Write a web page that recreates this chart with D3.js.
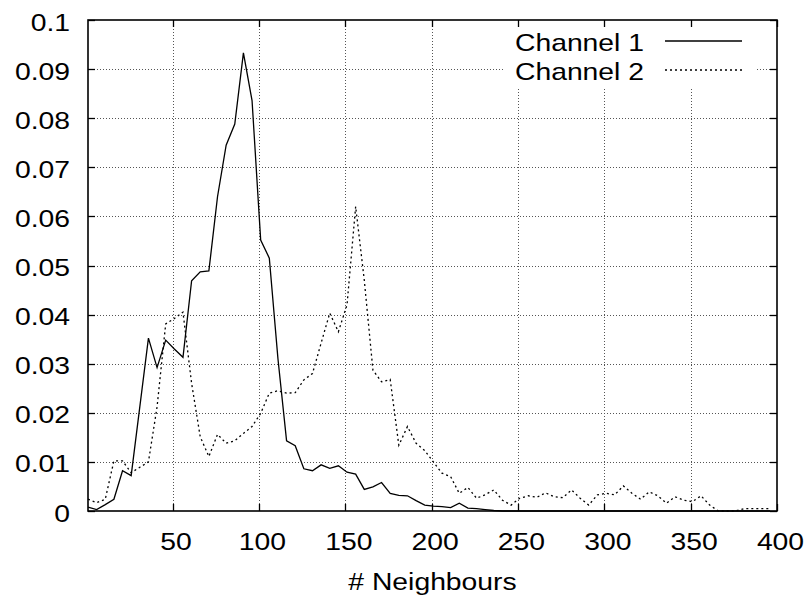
<!DOCTYPE html>
<html>
<head>
<meta charset="utf-8">
<script src="https://cdn.jsdelivr.net/npm/d3@7"></script>
<style>
  body { margin: 0; background: #fff; }
  text { font-family: "Liberation Sans", Arial, sans-serif; font-size: 24px; fill: #000; }
</style>
</head>
<body>
<svg class="chart" width="809" height="606"></svg>
<script>
// bin positions (# neighbours)
const bins = [1, 6, 11, 16, 21, 26, 31, 36, 41, 46, 51, 56, 61, 66, 71, 76, 81, 86, 91, 96,
  101, 106, 111, 116, 121, 126, 131, 136, 141, 146, 151, 156, 161, 166, 171, 176, 181, 186, 191, 196,
  201, 206, 211, 216, 221, 226, 231, 236, 241, 246, 251, 256, 261, 266, 271, 276, 281, 286, 291, 296,
  301, 306, 311, 316, 321, 326, 331, 336, 341, 346, 351, 356, 361, 366, 371, 376, 381, 386, 391, 396];

const channel1 = [0.0008, 0.0003, 0.0013, 0.0024, 0.0082, 0.0072, 0.0212, 0.0352, 0.0292, 0.0348,
  0.0330, 0.0313, 0.0469, 0.0487, 0.0489, 0.0640, 0.0745, 0.0788, 0.0933, 0.0836,
  0.0552, 0.0515, 0.0310, 0.0143, 0.0133, 0.0086, 0.0082, 0.0094, 0.0087, 0.0092,
  0.0079, 0.0075, 0.0044, 0.0049, 0.0058, 0.0036, 0.0032, 0.0031, 0.0021, 0.0012,
  0.0010, 0.0009, 0.0007, 0.0016, 0.0006, 0.0005, 0.0003, 0.0001, 0, 0,
  0, 0, 0, 0, 0, 0, 0, 0, 0, 0,
  0, 0, 0, 0, 0, 0, 0, 0, 0, 0,
  0, 0, 0, 0, 0, 0, 0, 0, 0, 0];

const channel2 = [0.0024, 0.0017, 0.0024, 0.0102, 0.0102, 0.0078, 0.0089, 0.0100, 0.0212, 0.0381,
  0.0392, 0.0405, 0.0260, 0.0151, 0.0111, 0.0156, 0.0138, 0.0143, 0.0158, 0.0172,
  0.0199, 0.0240, 0.0245, 0.0240, 0.0241, 0.0267, 0.0280, 0.0342, 0.0403, 0.0365,
  0.0420, 0.0620, 0.0470, 0.0287, 0.0263, 0.0268, 0.0134, 0.0172, 0.0138, 0.0123,
  0.0100, 0.0077, 0.0070, 0.0036, 0.0048, 0.0026, 0.0033, 0.0043, 0.0022, 0.0012,
  0.0026, 0.0031, 0.0028, 0.0037, 0.0029, 0.0027, 0.0043, 0.0026, 0.0012, 0.0033,
  0.0036, 0.0033, 0.0051, 0.0036, 0.0024, 0.0039, 0.0031, 0.0016, 0.0029, 0.0022,
  0.0019, 0.0031, 0.0012, 0, 0, 0, 0.0005, 0.0005, 0.0005, 0.0005];

const xTicks = [50, 100, 150, 200, 250, 300, 350, 400];
const yTicks = [0, 0.01, 0.02, 0.03, 0.04, 0.05, 0.06, 0.07, 0.08, 0.09, 0.1];
const seriesNames = ['Channel 1', 'Channel 2'];

const svg = d3.select('.chart');
const plotL = 88, plotR = 777, plotT = 20, plotB = 511;
const stretch = 1.18; // text looks horizontally stretched in the original

const x = d3.scaleLinear().domain([1, 400]).range([plotL, plotR]);
const y = d3.scaleLinear().domain([0, 0.1]).range([plotB, plotT]);

function label(g, tx, ty, str, anchor) {
  g.append('text')
    .attr('transform', `translate(${tx},${ty}) scale(${stretch},1)`)
    .attr('text-anchor', anchor)
    .text(str);
}

// grid
const grid = svg.append('g')
  .attr('stroke', '#555')
  .attr('stroke-width', 1)
  .attr('stroke-dasharray', '1,2');
grid.selectAll('.gy').data(yTicks.slice(1, -1)).enter().append('line')
  .attr('x1', plotL).attr('x2', plotR)
  .attr('y1', d => Math.round(y(d)) + 0.5).attr('y2', d => Math.round(y(d)) + 0.5);
grid.selectAll('.gx').data(xTicks.slice(0, -1)).enter().append('line')
  .attr('y1', plotT).attr('y2', plotB)
  .attr('x1', d => Math.round(x(d)) + 0.5).attr('x2', d => Math.round(x(d)) + 0.5);

// key box hides the grid behind it
svg.append('rect')
  .attr('x', 505).attr('y', plotT + 1)
  .attr('width', 252).attr('height', 68)
  .attr('fill', '#fff');

// lines
const line = d3.line().x((d, i) => x(bins[i])).y(d => y(d));
svg.append('path').datum(channel1)
  .attr('fill', 'none').attr('stroke', '#000').attr('stroke-width', 1.3)
  .attr('d', line);
svg.append('path').datum(channel2)
  .attr('fill', 'none').attr('stroke', '#000').attr('stroke-width', 1.3)
  .attr('stroke-dasharray', '2,3')
  .attr('d', line);

// ticks, inward on all four sides
const ticks = svg.append('g').attr('stroke', '#000').attr('stroke-width', 1.3);
yTicks.forEach(t => {
  const yy = Math.round(y(t)) + 0.5;
  ticks.append('line').attr('x1', plotL).attr('x2', plotL + 7).attr('y1', yy).attr('y2', yy);
  ticks.append('line').attr('x1', plotR).attr('x2', plotR - 7).attr('y1', yy).attr('y2', yy);
});
xTicks.forEach(t => {
  const xx = Math.round(x(t)) + 0.5;
  ticks.append('line').attr('y1', plotB).attr('y2', plotB - 7).attr('x1', xx).attr('x2', xx);
  ticks.append('line').attr('y1', plotT).attr('y2', plotT + 7).attr('x1', xx).attr('x2', xx);
});

// border
svg.append('rect')
  .attr('x', plotL).attr('y', plotT)
  .attr('width', plotR - plotL).attr('height', plotB - plotT)
  .attr('fill', 'none').attr('stroke', '#000').attr('stroke-width', 1.6);

// tick labels
const labels = svg.append('g');
yTicks.forEach(t => label(labels, 70, y(t) + 10.5, d3.format('~g')(t), 'end'));
xTicks.forEach(t => label(labels, x(t) + 3.5, 550, t, 'middle'));
label(labels, 432.5, 590, '# Neighbours', 'middle');

// legend
const key = svg.append('g');
seriesNames.forEach((name, i) => {
  const yy = 51 + i * 29;
  label(key, 644, yy, name, 'end');
  key.append('line')
    .attr('x1', 665).attr('x2', 742)
    .attr('y1', yy - 10).attr('y2', yy - 10)
    .attr('stroke', '#000').attr('stroke-width', 1.3)
    .attr('stroke-dasharray', i === 0 ? null : '2,3');
});
</script>
</body>
</html>
